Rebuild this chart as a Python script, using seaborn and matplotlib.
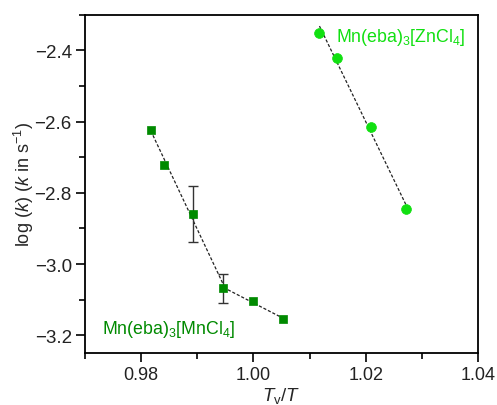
import numpy as np
import pandas as pd
import matplotlib
matplotlib.use("Agg")
import matplotlib.pyplot as plt
from matplotlib.ticker import MultipleLocator
import seaborn as sns

# Data
mn_x = [0.98172, 0.98415, 0.98932, 0.99466, 1.00000, 1.00522]
mn_y = [-2.623, -2.721, -2.859, -3.068, -3.105, -3.154]
mn_err = [0.0, 0.0, 0.078, 0.041, 0.0, 0.0]

zn_x = [1.01175, 1.01495, 1.02100, 1.02712]
zn_y = [-2.351, -2.420, -2.616, -2.846]

mn_label = r"Mn(eba)$_3$[MnCl$_4$]"
zn_label = r"Mn(eba)$_3$[ZnCl$_4$]"
xlabel = r"$T_\mathrm{v}/T$"
ylabel = r"log ($k$) ($k$ in s$^{-1}$)"

dark_green = "#008a00"
bright_green = "#11e011"

sns.set_theme(style="ticks")
plt.rcParams["font.family"] = ["Liberation Sans", "DejaVu Sans"]
plt.rcParams["mathtext.fontset"] = "custom"
plt.rcParams["mathtext.rm"] = "Liberation Sans"
plt.rcParams["mathtext.it"] = "Liberation Sans:italic"

fig = plt.figure(figsize=(4.97, 4.06), dpi=100)
ax = fig.add_axes([0.171, 0.128, 0.791, 0.833])

# Fit lines (dashed)
def fit_line(xs, ys):
    p = np.polyfit(xs, ys, 1)
    xx = np.array([min(xs), max(xs)])
    return xx, np.polyval(p, xx)

segments = [
    (mn_x[:4], mn_y[:4]),
    (mn_x[3:], mn_y[3:]),
    (zn_x, zn_y),
]
for xs, ys in segments:
    xx, yy = fit_line(xs, ys)
    sns.lineplot(x=xx, y=yy, ax=ax, color="#222222", lw=0.9,
                 linestyle=(0, (2.5, 1.5)), legend=False)

# Error bars
for x, y, e in zip(mn_x, mn_y, mn_err):
    if e > 0:
        ax.errorbar([x], [y], yerr=[e], fmt="none", ecolor="#333333",
                    elinewidth=1.0, capsize=3.5, capthick=1.0, zorder=2)

df_mn = pd.DataFrame({"x": mn_x, "y": mn_y})
df_zn = pd.DataFrame({"x": zn_x, "y": zn_y})
sns.scatterplot(data=df_mn, x="x", y="y", ax=ax, marker="s", s=38,
                color=dark_green, edgecolor=dark_green, linewidth=0.5, zorder=3)
sns.scatterplot(data=df_zn, x="x", y="y", ax=ax, marker="o", s=50,
                color=bright_green, edgecolor=bright_green, linewidth=0.5, zorder=3)

ax.text(1.0147, -2.361, zn_label, color=bright_green, fontsize=12.8,
        ha="left", va="center")
ax.text(0.9731, -3.182, mn_label, color=dark_green, fontsize=12.8,
        ha="left", va="center")

ax.set_xlim(0.97, 1.04)
ax.set_ylim(-3.25, -2.3)
ax.xaxis.set_major_locator(MultipleLocator(0.02))
ax.xaxis.set_minor_locator(MultipleLocator(0.01))
ax.yaxis.set_major_locator(MultipleLocator(0.2))
ax.yaxis.set_minor_locator(MultipleLocator(0.1))
ax.xaxis.set_major_formatter(matplotlib.ticker.FormatStrFormatter("%.2f"))
ax.yaxis.set_major_formatter(matplotlib.ticker.FuncFormatter(
    lambda v, p: ("\u2212%.1f" % abs(v)) if v < 0 else "%.1f" % v))

ax.tick_params(which="both", direction="out", top=False, right=False,
               width=1.2, color="black", labelcolor="#222222")
ax.tick_params(axis="x", labelsize=13)
ax.tick_params(axis="y", labelsize=13.5)
ax.tick_params(which="major", length=6.5, pad=3)
ax.tick_params(which="minor", length=4)
for sp in ax.spines.values():
    sp.set_visible(True)
    sp.set_linewidth(1.3)
    sp.set_color("black")

ax.set_xlabel(xlabel, fontsize=13.5, labelpad=1)
ax.set_ylabel(ylabel, fontsize=13)
ax.yaxis.set_label_coords(-0.124, 0.5)

fig.savefig("out.png", dpi=100)
